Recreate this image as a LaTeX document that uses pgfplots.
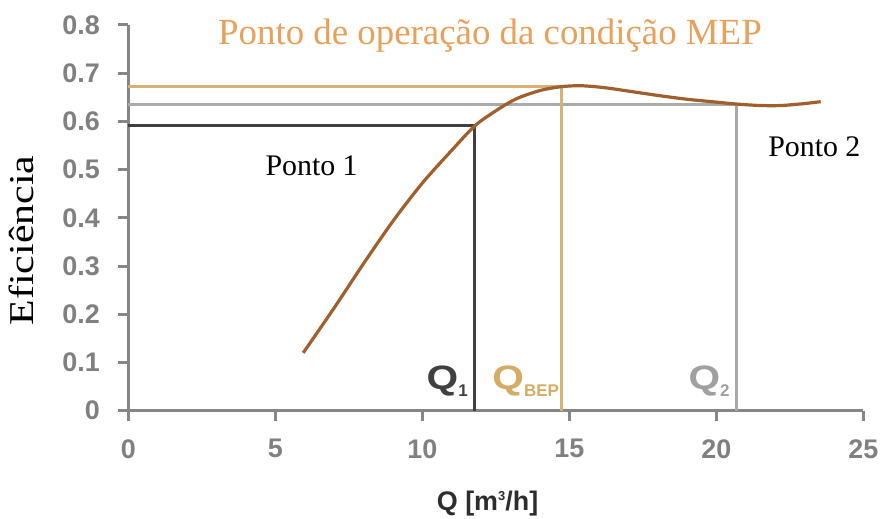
\documentclass[border=0pt]{standalone}
\usepackage{fontspec}
\setmainfont{Liberation Serif}
\newfontfamily\arialfont{Liberation Sans}
\usepackage{pgfplots}
\pgfplotsset{compat=1.18}

\definecolor{axisgray}{RGB}{134,134,134}
\definecolor{tickgray}{RGB}{128,128,128}
\definecolor{labelcol}{RGB}{45,45,45}
\definecolor{curvecol}{RGB}{160,95,45}
\definecolor{goldline}{RGB}{215,178,120}
\definecolor{lightline}{RGB}{170,170,170}
\definecolor{darkline}{RGB}{64,64,64}
\definecolor{titlecol}{RGB}{232,160,90}
\definecolor{qbepcol}{RGB}{212,172,100}
\definecolor{qtwocol}{RGB}{160,160,160}

\newcommand{\qglyph}{\scalebox{1.2}[1]{\arialfont\bfseries\fontsize{34}{34}\selectfont Q}}
\newcommand{\qsub}[1]{\raisebox{-7bp}{\arialfont\bfseries\fontsize{17}{17}\selectfont #1}}

\begin{document}
\begin{tikzpicture}
\useasboundingbox (0,0) rectangle (881bp,519bp);
\begin{axis}[
  at={(128.3bp,108.3bp)}, anchor=south west,
  scale only axis, width=735bp, height=385.7bp,
  xmin=0, xmax=25, ymin=0, ymax=0.8,
  axis lines*=left,
  axis line style={axisgray, line width=3bp},
  tick align=outside, major tick length=10bp,
  every tick/.style={axisgray, line width=3bp},
  xtick={0,5,10,15,20,25},
  ytick={0,0.1,0.2,0.3,0.4,0.5,0.6,0.7,0.8},
  /pgf/number format/assume math mode=true,
  ticklabel style={font=\arialfont\bfseries\fontsize{27}{27}\selectfont, text=tickgray},
  yticklabel style={/pgf/number format/fixed, /pgf/number format/precision=1, xshift=-15bp},
  xticklabel style={yshift=-15bp},
  clip=false,
]
% operating points: horizontal efficiency level and vertical flow rate
\addplot[darkline, line width=3bp] coordinates {(0,0.591) (11.79,0.591) (11.79,0)};
\addplot[lightline, line width=3bp] coordinates {(0,0.636) (20.69,0.636) (20.69,0)};
\addplot[goldline, line width=3bp] coordinates {(0,0.672) (14.72,0.672) (14.72,0)};

% pump efficiency curve
\addplot[curvecol, line width=3.2bp, smooth] coordinates {
  (5.95,0.120) (7.0,0.213) (8.0,0.305) (9.0,0.393) (10.0,0.472)
  (11.0,0.540) (11.79,0.591) (12.5,0.622) (13.2,0.647) (14.0,0.664)
  (14.72,0.672) (15.4,0.674) (16.2,0.670) (17.0,0.663) (18.0,0.654)
  (19.0,0.646) (20.0,0.640) (20.69,0.636) (21.5,0.633) (22.2,0.633)
  (23.0,0.637) (23.55,0.641)
};

\node[anchor=base, inner sep=0, text=titlecol, font=\fontsize{37}{37}\selectfont]
  at (axis cs:12.3,0.7586) {Ponto de operação da condição MEP};
\node[anchor=base west, inner sep=0, font=\fontsize{30}{30}\selectfont]
  at (axis cs:4.66,0.4885) {Ponto 1};
\node[anchor=base west, inner sep=0, font=\fontsize{30}{30}\selectfont]
  at (axis cs:21.76,0.527) {Ponto 2};
\node[anchor=base, inner sep=0, rotate=90, font=\fontsize{35}{35}\selectfont]
  at (axis cs:-3.24,0.353) {\scalebox{1.2}[1]{Eficiência}};
\node[anchor=base, inner sep=0, text=labelcol, font=\arialfont\bfseries\fontsize{27}{27}\selectfont]
  at (axis cs:12.22,-0.206) {Q [m\raisebox{10bp}{\fontsize{13}{13}\selectfont 3}/h]};

\node[anchor=base east, inner sep=0, text=darkline] at (axis cs:11.55,0.045) {\qglyph\qsub{1}};
\node[anchor=base west, inner sep=0, text=qbepcol] at (axis cs:12.38,0.045) {\qglyph\qsub{BEP}};
\node[anchor=base east, inner sep=0, text=qtwocol] at (axis cs:20.46,0.045) {\qglyph\qsub{2}};
\end{axis}
\end{tikzpicture}
\end{document}
